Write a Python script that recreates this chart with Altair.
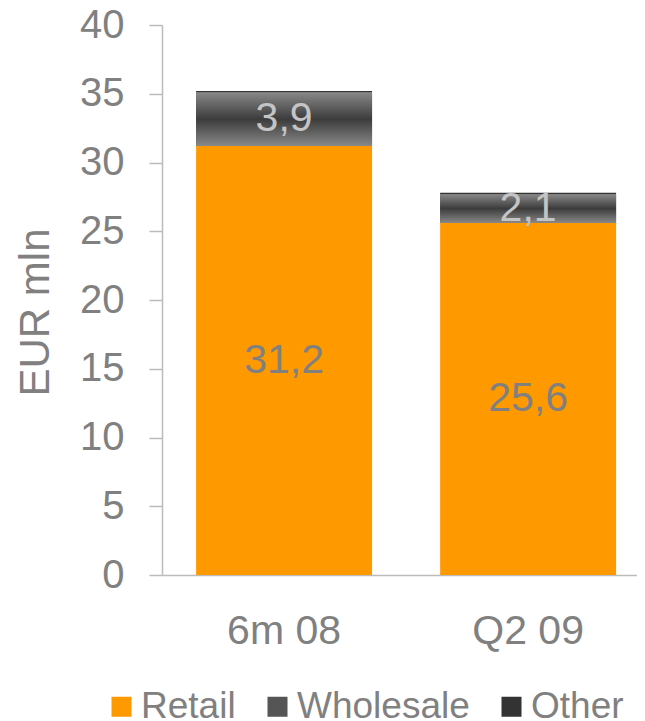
import altair as alt
import pandas as pd

periods = ["6m 08", "Q2 09"]
segments = ["Retail", "Wholesale", "Other"]
retail = [31.2, 25.6]
wholesale = [3.9, 2.1]
other = [0.1, 0.1]
y_ticks = [0, 5, 10, 15, 20, 25, 30, 35, 40]
seg_colors = ["#FF9900", "#555555", "#333333"]

rows = []
for i, p in enumerate(periods):
    for j, (s, vals) in enumerate(zip(segments, [retail, wholesale, other])):
        rows.append({"period": p, "segment": s, "order": j, "value": vals[i],
                     "label": f"{vals[i]:.1f}".replace(".", ",")})
df = pd.DataFrame(rows)

FONT = "Liberation Sans"
GRAY = "#808080"
AXC = "#bbbbbb"

x_enc = alt.X("period:N", sort=periods,
              scale=alt.Scale(paddingInner=0.279, paddingOuter=0.1127, align=0.62),
              axis=alt.Axis(title=None, labelAngle=0, ticks=False, labelPadding=36,
                            labelFontSize=41, labelColor=GRAY, labelFont=FONT,
                            domainColor=AXC, domainWidth=1.5))

def y_enc(field):
    return alt.Y(field, scale=alt.Scale(domain=[0, 40], nice=False),
                 axis=alt.Axis(values=y_ticks, title="EUR mln", grid=False, tickSize=13,
                               tickColor=AXC, domainColor=AXC, domainWidth=1.5, tickWidth=1.5,
                               labelFontSize=40, labelColor=GRAY, labelFont=FONT, labelPadding=25,
                               titleFontSize=42, titleColor=GRAY, titleFont=FONT,
                               titleFontWeight="normal", titleX=-127, titleY=287,
                               titleAlign="center", titleBaseline="middle"))

base = alt.Chart(df).transform_stack(
    stack="value", groupby=["period"], as_=["y0", "y1"],
    sort=[alt.SortField("order", "ascending")]
).transform_calculate(mid="(datum.y0 + datum.y1) / 2")

bars = base.mark_bar(opacity=1).encode(
    x=x_enc,
    y=y_enc("y0:Q"),
    y2="y1:Q",
    color=alt.Color("segment:N", scale=alt.Scale(domain=segments, range=seg_colors),
                    legend=alt.Legend(title=None, orient="none", legendX=-59, legendY=663,
                                      direction="horizontal", symbolType="square",
                                      symbolSize=400, symbolStrokeWidth=0, symbolOpacity=1,
                                      labelFontSize=37, labelColor=GRAY, labelFont=FONT,
                                      labelOffset=1, columnPadding=23, labelLimit=400,
                                      padding=0)),
)

grad = alt.Gradient(gradient="linear", x1=0, y1=0, x2=0, y2=1,
                    stops=[alt.GradientStop(offset=0, color="#888888"),
                           alt.GradientStop(offset=0.5, color="#3c3c3c"),
                           alt.GradientStop(offset=1, color="#888888")])

wh = base.transform_filter(alt.datum.segment == "Wholesale").mark_bar(color=grad, opacity=1).encode(
    x=x_enc, y=y_enc("y0:Q"), y2="y1:Q")

texts = base.transform_filter(alt.datum.segment != "Other").mark_text(
    fontSize=41, font=FONT, baseline="middle", align="center").encode(
    x=x_enc, y=y_enc("mid:Q"), text="label:N",
    color=alt.condition(alt.datum.segment == "Retail", alt.value(GRAY), alt.value("#c4c4c4")))

chart = alt.layer(bars, wh, texts).properties(
    width=475, height=550,
    autosize=alt.AutoSizeParams(type="none"),
    padding={"left": 154, "top": 17, "right": 0, "bottom": 146},
).configure_view(stroke=None)

chart.save("out.html", embed_options={"renderer": "svg", "actions": False})
